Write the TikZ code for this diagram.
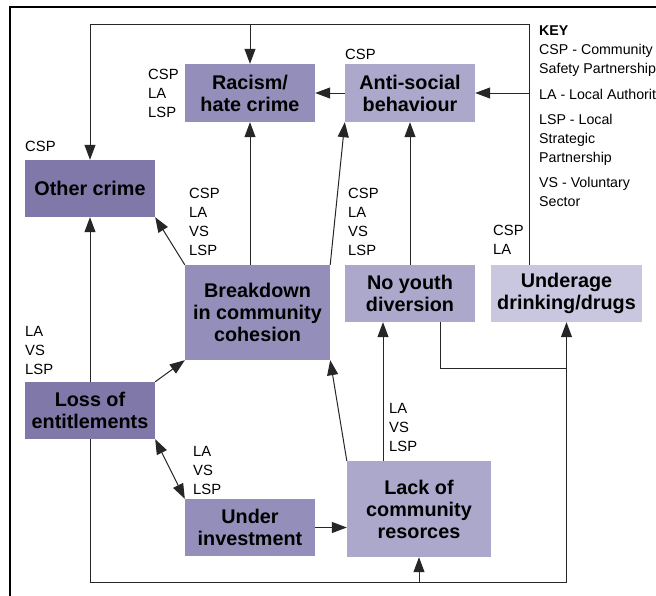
\documentclass[tikz,border=0pt]{standalone}
\usepackage{fontspec}
\setmainfont{Liberation Sans}
\usetikzlibrary{arrows.meta}
\definecolor{cdark}{HTML}{7F78A8}
\definecolor{cmid}{HTML}{948FBA}
\definecolor{clight}{HTML}{ACA8CB}
\definecolor{cpale}{HTML}{C9C6DF}
\tikzset{
  box/.style={rectangle, inner sep=0pt, align=center, text=black,
    font=\fontsize{19.8}{22}\selectfont\bfseries},
  lbl/.style={anchor=north west, inner sep=0pt, align=left,
    font=\fontsize{14.8}{19}\selectfont},
  keytext/.style={anchor=north west, inner sep=0pt, align=left,
    font=\fontsize{14.2}{18.7}\selectfont},
  conn/.style={line width=1pt, draw=black!85},
  arr/.style={conn, -{Triangle[length=15pt,width=11pt]}},
  darr/.style={conn, {Triangle[length=15pt,width=11pt]}-{Triangle[length=15pt,width=11pt]}},
}
\begin{document}
\begin{tikzpicture}[x=1pt,y=-1pt]
\useasboundingbox (0,0) rectangle (656,595);
\fill[white] (0,0) rectangle (656,595);
% frame
\draw[line width=2pt] (656,7) -- (10,7) -- (10,596);

% boxes
\node[box, fill=cmid, minimum width=130pt, minimum height=58pt] (racism) at (250,93) {Racism/\\hate crime};
\node[box, fill=clight, minimum width=130pt, minimum height=58pt] (anti) at (410,93) {Anti-social\\behaviour};
\node[box, fill=cdark, minimum width=130pt, minimum height=57pt] (other) at (90,188.5) {Other crime};
\node[box, fill=cmid, minimum width=145pt, minimum height=95pt] (breakdown) at (257.5,312.5) {Breakdown\\in community\\cohesion};
\node[box, fill=clight, minimum width=130pt, minimum height=57pt] (noyouth) at (410,293.5) {No youth\\diversion};
\node[box, fill=cpale, minimum width=151pt, minimum height=57pt] (underage) at (566.5,293.5) {Underage\\drinking/drugs};
\node[box, fill=cdark, minimum width=130pt, minimum height=57pt] (loss) at (90,410.5) {Loss of\\entitlements};
\node[box, fill=cmid, minimum width=130pt, minimum height=57pt] (under) at (250,527.5) {Under\\investment};
\node[box, fill=clight, minimum width=144pt, minimum height=96pt] (lack) at (419,509) {Lack of\\community\\resorces};

% labels
\node[lbl] (l1) at (148,69) {CSP\\LA\\LSP};
\node[lbl] (l2) at (25,141) {CSP};
\node[lbl] (l3) at (189,188) {CSP\\LA\\VS\\LSP};
\node[lbl] (l4) at (345,49) {CSP};
\node[lbl] (l5) at (348,188) {CSP\\LA\\VS\\LSP};
\node[lbl] (l6) at (493,225) {CSP\\LA};
\node[lbl] (l7) at (25,326) {LA\\VS\\LSP};
\node[lbl] (l8) at (193,446) {LA\\VS\\LSP};
\node[lbl] (l9) at (389,403) {LA\\VS\\LSP};
\node[keytext] (key) at (539,26) {\textbf{KEY}\\CSP - Community\\Safety Partnership\\[7pt]LA - Local Authority\\[7pt]LSP - Local\\Strategic\\Partnership\\[7pt]VS - Voluntary\\Sector};

% coordinates
\coordinate (tr) at (529,24);
\coordinate (tl) at (90,24);
\coordinate (bl) at (90,582);
\coordinate (br) at (566.5,582);
\coordinate (jn) at (566.5,368);
\coordinate (ny) at (440,368);
\coordinate (lk) at (383,0);

% top loop
\draw[arr] (underage.north -| tr) -- (tr) -- (tl) -- (other.north);
\draw[arr] (racism.north |- tl) -- (racism.north);
\draw[arr] (anti.east -| tr) -- (anti.east);
% upper links
\draw[arr] (anti.west) -- (racism.east);
\draw[arr] (breakdown.north -| racism.south) -- (racism.south);
\draw[arr] (breakdown.north west) -- (other.south east);
\draw[arr] (breakdown.north east) -- (anti.south west);
\draw[arr] (noyouth.north) -- (anti.south);
% lack links
\draw[arr] (lack.north -| lk) -- (noyouth.south -| lk);
\draw[arr] (lack.north west) -- (breakdown.south east);
% no youth to underage
\draw[conn] (noyouth.south -| ny) -- (ny) -- (jn);
% bottom loop
\draw[arr] (loss.south) -- (bl) -- (br) -- (underage.south);
\draw[arr] (lack.south |- br) -- (lack.south);
% loss links
\draw[arr] (loss.north) -- (other.south);
\draw[arr] (loss.north east) -- (breakdown.south west);
\draw[darr] (loss.south east) -- (under.north west);
\draw[arr] (under.east) -- (under.east -| lack.west);
\end{tikzpicture}
\end{document}
